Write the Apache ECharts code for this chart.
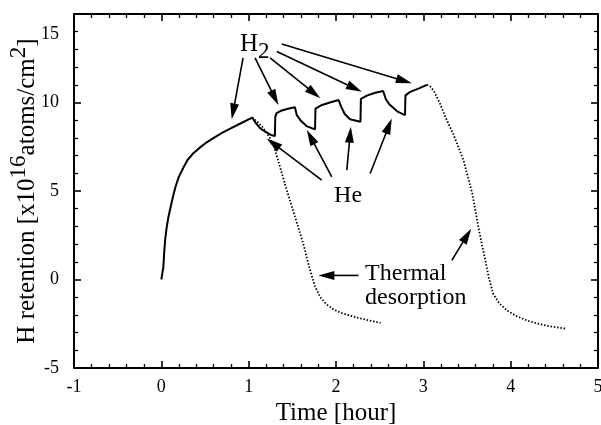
<!DOCTYPE html>
<html>
<head>
<meta charset="utf-8">
<script src="https://cdn.jsdelivr.net/npm/echarts@6/dist/echarts.min.js"></script>
<style>
  html, body { margin: 0; padding: 0; background: #fff; }
  #chart { width: 601px; height: 425px; }
</style>
</head>
<body>
<div id="chart"></div>
<script>
// H retention in units of 1e16 atoms/cm2, time in hours.

// Axis ranges and tick steps
const xRange = [-1, 5];
const xStep = 1;
const yRange = [-5, 15];
const yStep = 5;

// H2 implantation (shared start of both runs)
const implantTime = [0, 0.01, 0.023, 0.034, 0.045, 0.06, 0.08, 0.1, 0.125, 0.16, 0.2, 0.25, 0.3, 0.37, 0.44, 0.52, 0.6, 0.7, 0.8, 0.9, 1.0, 1.04];
const implantH    = [0, 0.3, 0.7, 1.6, 2.3, 2.9, 3.5, 3.95, 4.5, 5.2, 5.8, 6.3, 6.75, 7.15, 7.45, 7.75, 8.0, 8.3, 8.55, 8.8, 9.05, 9.15];

// Alternating He / H2 irradiation after the first implantation
const cycleTime = [1.08, 1.13, 1.19, 1.25, 1.30, 1.305, 1.32, 1.38, 1.45, 1.53, 1.55, 1.60, 1.67, 1.76, 1.765, 1.84, 1.93, 2.03, 2.06, 2.10, 2.16, 2.28, 2.285, 2.36, 2.45, 2.54, 2.57, 2.61, 2.70, 2.79, 2.795, 2.85, 2.95, 3.04];
const cycleH    = [8.85, 8.55, 8.35, 8.18, 8.1, 9.2, 9.4, 9.55, 9.65, 9.73, 9.3, 8.95, 8.65, 8.48, 9.65, 9.86, 10.0, 10.14, 9.75, 9.35, 9.05, 8.91, 10.2, 10.4, 10.55, 10.65, 10.2, 9.9, 9.5, 9.29, 10.4, 10.6, 10.8, 11.0];

// Thermal desorption after H2 only
const desorbATime = [1.04, 1.10, 1.16, 1.21, 1.25, 1.29, 1.33, 1.38, 1.43, 1.48, 1.54, 1.59, 1.64, 1.68, 1.72, 1.76, 1.82, 1.89, 1.98, 2.08, 2.16, 2.28, 2.39, 2.51];
const desorbAH    = [9.15, 8.9, 8.6, 8.25, 7.95, 7.5, 6.85, 6.0, 5.15, 4.35, 3.4, 2.6, 1.75, 0.95, 0.25, -0.4, -1.0, -1.4, -1.72, -1.92, -2.04, -2.2, -2.32, -2.45];

// Thermal desorption after the He / H2 sequence
const desorbBTime = [3.04, 3.08, 3.12, 3.19, 3.26, 3.34, 3.40, 3.46, 3.51, 3.56, 3.60, 3.63, 3.67, 3.71, 3.75, 3.80, 3.87, 3.96, 4.07, 4.19, 4.30, 4.41, 4.52, 4.64];
const desorbBH    = [11.0, 10.9, 10.65, 9.95, 9.1, 8.25, 7.5, 6.74, 5.8, 4.86, 3.8, 2.96, 2.0, 1.08, 0.1, -0.81, -1.35, -1.76, -2.08, -2.32, -2.48, -2.61, -2.7, -2.78];

// Annotation arrows: [fromTime, fromH, toTime, toH]
const arrows = [
  [0.936, 12.52, 0.806, 9.05],
  [1.073, 12.52, 1.340, 9.86],
  [1.245, 12.52, 1.820, 10.24],
  [1.322, 12.88, 2.296, 10.61],
  [1.379, 13.31, 2.868, 11.09],
  [1.837, 5.61, 1.207, 7.97],
  [1.952, 5.80, 1.666, 8.44],
  [2.124, 6.18, 2.170, 8.63],
  [2.391, 5.99, 2.639, 9.10],
  [2.257, 0.23, 1.798, 0.23],
  [3.326, 1.08, 3.548, 2.87]
];

// Annotation texts: [time, H, text, horizontal anchor]
const notes = [
  [0.90, 13.3, '{h|H}{s|2}', 'left'],
  [2.138, 4.76, 'He', 'center'],
  [2.333, -0.34, 'Thermal\ndesorption', 'left']
];

const pairs = (xs, ys) => xs.map((x, i) => [x, ys[i]]);
const solidRun = pairs(implantTime.concat(cycleTime), implantH.concat(cycleH));

const SERIF = 'Liberation Serif';
const INK = '#000';

const chart = echarts.init(document.getElementById('chart'), null, { renderer: 'canvas' });

function frameAxis(extra) {
  return Object.assign({
    type: 'value',
    nameMoveOverlap: false,
    axisLine: { show: true, onZero: false, lineStyle: { color: INK, width: 2 } },
    axisTick: { show: true, inside: true, length: 7, lineStyle: { color: INK, width: 1.6 } },
    minorTick: { show: true, splitNumber: 5, length: 4, lineStyle: { color: INK, width: 1.3 } },
    splitLine: { show: false },
    minorSplitLine: { show: false }
  }, extra);
}

const option = {
  animation: false,
  backgroundColor: '#fff',
  grid: { left: 74, right: 3, top: 14, bottom: 57, outerBoundsMode: 'none' },
  xAxis: [
    frameAxis({
      min: xRange[0], max: xRange[1], interval: xStep, position: 'bottom',
      axisLabel: { color: INK, fontFamily: SERIF, fontSize: 18, margin: 10 },
      name: 'Time [hour]', nameLocation: 'middle', nameGap: 33,
      nameTextStyle: { color: INK, fontFamily: SERIF, fontSize: 25 }
    }),
    frameAxis({
      min: xRange[0], max: xRange[1], interval: xStep, position: 'top',
      axisLabel: { show: false }
    })
  ],
  yAxis: [
    frameAxis({
      min: yRange[0], max: yRange[1], interval: yStep, position: 'left',
      axisLabel: {
        color: INK, fontFamily: SERIF, fontSize: 18, margin: 15,
        formatter: v => (v === yRange[1] ? '{low|' + v + '}' : String(v)),
        rich: { low: { fontFamily: SERIF, fontSize: 18, color: INK, padding: [40, 0, 0, 0] } }
      },
      name: 'H retention [x10{sup|16}atoms/cm{sup|2}]',
      nameLocation: 'middle', nameGap: 32,
      nameTextStyle: {
        color: INK, fontFamily: SERIF, fontSize: 25, lineHeight: 30,
        rich: { sup: { fontFamily: SERIF, fontSize: 23, color: INK, lineHeight: 24, padding: [0, 0, 16, 0] } }
      }
    }),
    frameAxis({
      min: yRange[0], max: yRange[1], interval: yStep, position: 'right',
      axisLabel: { show: false }
    })
  ],
  series: [
    {
      name: 'H2 / He irradiation', type: 'line', data: solidRun,
      showSymbol: false, symbol: 'none',
      lineStyle: { color: INK, width: 2 }
    },
    {
      name: 'Thermal desorption A', type: 'line', data: pairs(desorbATime, desorbAH),
      showSymbol: false, symbol: 'none',
      lineStyle: { color: INK, width: 1.8, type: [1.5, 1.8] }
    },
    {
      name: 'Thermal desorption B', type: 'line', data: pairs(desorbBTime, desorbBH),
      showSymbol: false, symbol: 'none',
      lineStyle: { color: INK, width: 1.8, type: [1.5, 1.8] }
    },
    {
      name: 'arrows', type: 'custom', data: arrows,
      encode: { x: [0, 2], y: [1, 3] },
      silent: true, clip: false,
      renderItem(params, api) {
        const p0 = api.coord([api.value(0), api.value(1)]);
        const p1 = api.coord([api.value(2), api.value(3)]);
        const dx = p1[0] - p0[0], dy = p1[1] - p0[1];
        const len = Math.hypot(dx, dy);
        const ux = dx / len, uy = dy / len;
        const headLen = 16, headHalf = 4.5;
        const bx = p1[0] - ux * headLen, by = p1[1] - uy * headLen;
        return {
          type: 'group',
          children: [
            { type: 'line', shape: { x1: p0[0], y1: p0[1], x2: bx + ux * 2, y2: by + uy * 2 },
              style: { stroke: INK, lineWidth: 1.6 } },
            { type: 'polygon',
              shape: { points: [[p1[0], p1[1]], [bx - uy * headHalf, by + ux * headHalf], [bx + uy * headHalf, by - ux * headHalf]] },
              style: { fill: INK } }
          ]
        };
      }
    },
    {
      name: 'notes', type: 'custom', data: notes.map(n => [n[0], n[1]]),
      silent: true, clip: false,
      renderItem(params, api) {
        const p = api.coord([api.value(0), api.value(1)]);
        const n = notes[params.dataIndex];
        return {
          type: 'text', x: p[0], y: p[1],
          style: {
            text: n[2], align: n[3], verticalAlign: 'middle',
            fontFamily: SERIF, fontSize: 24, lineHeight: 24, fill: INK,
            rich: {
              h: { fontFamily: SERIF, fontSize: 25, lineHeight: 26, fill: INK },
              s: { fontFamily: SERIF, fontSize: 23, lineHeight: 24, padding: [16, 0, 0, 0], fill: INK }
            }
          }
        };
      }
    }
  ]
};

chart.setOption(option);
</script>
</body>
</html>
